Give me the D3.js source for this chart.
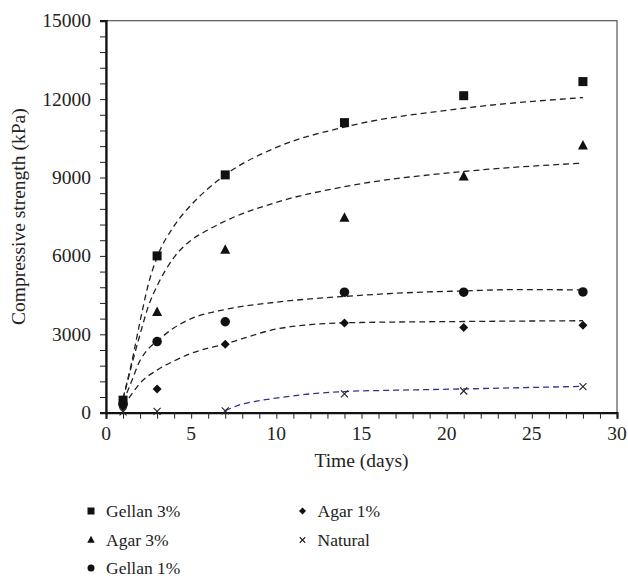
<!DOCTYPE html>
<html>
<head>
<meta charset="utf-8">
<script src="https://cdn.jsdelivr.net/npm/d3@7"></script>
<style>
  body { margin: 0; background: #fff; }
  text { font-family: "Liberation Serif", "DejaVu Serif", serif; fill: #222; }
</style>
</head>
<body>
<svg id="chart" width="628" height="580"></svg>
<script>
// measured data (days vs kPa)
let days = [1, 3, 7, 14, 21, 28];
let gellan3 = [480, 6000, 9100, 11100, 12130, 12670];
let agar3 = [430, 3850, 6230, 7450, 9030, 10220];
let gellan1 = [330, 2720, 3480, 4610, 4610, 4620];
let agar1 = [230, 910, 2620, 3430, 3260, 3350];
let natural = [30, 50, 70, 720, 830, 1000];

// dashed trend lines
let trendGellan3 = [[1, 560], [1.5, 1900], [2, 3500], [2.5, 4950], [3, 5950], [4, 7150], [5, 7950], [6, 8580], [7, 9100], [10, 10150], [14, 10930], [21, 11650], [28, 12060]];
let trendAgar3 = [[1, 500], [1.5, 1800], [2, 3000], [2.5, 4100], [3, 4850], [4, 5950], [5, 6600], [6, 7000], [7, 7335], [10, 8050], [14, 8650], [21, 9230], [28, 9550]];
let trendGellan1 = [[1, 400], [1.5, 1200], [2, 2000], [2.5, 2450], [3, 2740], [4, 3250], [5, 3600], [7, 3950], [10, 4230], [14, 4450], [18, 4600], [21, 4660], [24, 4710], [28, 4700]];
let trendAgar1 = [[1, 250], [1.5, 700], [2, 1130], [3, 1630], [4, 1980], [5, 2270], [7, 2630], [10, 3200], [12, 3370], [14, 3440], [21, 3490], [28, 3520]];
let trendNatural = [[7, 80], [8, 330], [9, 460], [10, 560], [12, 720], [14, 810], [17, 860], [21, 910], [28, 1010]];

let xTicks = [0, 5, 10, 15, 20, 25, 30];
let yTicks = [0, 3000, 6000, 9000, 12000, 15000];

let series = [
  {name: "Gellan 3%", values: gellan3, trend: trendGellan3, shape: "square", color: "#222"},
  {name: "Agar 3%", values: agar3, trend: trendAgar3, shape: "triangle", color: "#222"},
  {name: "Gellan 1%", values: gellan1, trend: trendGellan1, shape: "circle", color: "#222"},
  {name: "Agar 1%", values: agar1, trend: trendAgar1, shape: "diamond", color: "#222"},
  {name: "Natural", values: natural, trend: trendNatural, shape: "cross", color: "#2e3192"}
];

let svg = d3.select("#chart");
let plot = {left: 106, right: 617, top: 20.7, bottom: 412.7};

let xScale = d3.scaleLinear().domain([0, 30]).range([plot.left, plot.right]);
let yScale = d3.scaleLinear().domain([0, 15000]).range([plot.bottom, plot.top]);

// frame (top and right thin)
svg.append("rect")
  .attr("x", plot.left).attr("y", plot.top)
  .attr("width", plot.right - plot.left).attr("height", plot.bottom - plot.top)
  .style("fill", "none").style("stroke", "#555").style("stroke-width", 1.2);

// minor ticks
let xAxis = d3.axisBottom(xScale).tickValues(d3.range(0, 31, 1)).tickSize(6).tickFormat("");
let yAxis = d3.axisLeft(yScale).tickValues(d3.range(0, 15001, 600)).tickSize(6).tickFormat("");

let gx = svg.append("g").attr("transform", `translate(0,${plot.bottom})`).call(xAxis);
let gy = svg.append("g").attr("transform", `translate(${plot.left},0)`).call(yAxis);
[gx, gy].forEach(g => {
  g.select(".domain").style("stroke", "#111").style("stroke-width", 2.2);
  g.selectAll(".tick line").style("stroke", "#222").style("stroke-width", 1);
});

// tick labels
svg.selectAll(".xlab").data(xTicks).enter().append("text")
  .attr("x", d => xScale(d))
  .attr("y", plot.bottom + 27)
  .attr("text-anchor", "middle")
  .style("font-size", "19.5px")
  .text(d => d);
svg.selectAll(".ylab").data(yTicks).enter().append("text")
  .attr("x", plot.left - 15)
  .attr("y", d => yScale(d) + 6.5)
  .attr("text-anchor", "end")
  .style("font-size", "19.5px")
  .text(d => d);

// axis titles
svg.append("text")
  .attr("x", (plot.left + plot.right) / 2)
  .attr("y", 467)
  .attr("text-anchor", "middle")
  .style("font-size", "19.5px")
  .text("Time (days)");
svg.append("text")
  .attr("transform", `translate(25,${(plot.top + plot.bottom) / 2}) rotate(-90)`)
  .attr("text-anchor", "middle")
  .style("font-size", "19.5px")
  .text("Compressive strength (kPa)");

// trend lines
let line = d3.line()
  .x(d => xScale(d[0]))
  .y(d => yScale(d[1]))
  .curve(d3.curveMonotoneX);

series.forEach(s => {
  svg.append("path")
    .attr("d", line(s.trend))
    .style("fill", "none")
    .style("stroke", s.color)
    .style("stroke-width", 1.3)
    .style("stroke-dasharray", "6,4");
});

function drawMarker(g, shape, cx, cy, size) {
  if (shape === "square") {
    g.append("rect").attr("x", cx - size / 2).attr("y", cy - size / 2)
      .attr("width", size).attr("height", size).style("fill", "#111");
  } else if (shape === "triangle") {
    let h = size * 0.95;
    g.append("path")
      .attr("d", `M${cx},${cy - h * 0.6}L${cx + size / 2},${cy + h * 0.4}L${cx - size / 2},${cy + h * 0.4}Z`)
      .style("fill", "#111");
  } else if (shape === "circle") {
    g.append("circle").attr("cx", cx).attr("cy", cy).attr("r", size / 2).style("fill", "#111");
  } else if (shape === "diamond") {
    let r = size / 2;
    g.append("path")
      .attr("d", `M${cx},${cy - r}L${cx + r},${cy}L${cx},${cy + r}L${cx - r},${cy}Z`)
      .style("fill", "#111");
  } else {
    let r = size / 2 - 0.5;
    g.append("path")
      .attr("d", `M${cx - r},${cy - r}L${cx + r},${cy + r}M${cx + r},${cy - r}L${cx - r},${cy + r}`)
      .style("stroke", "#222").style("stroke-width", 1.1).style("fill", "none");
  }
}

let sizes = {square: 9, triangle: 10, circle: 9.5, diamond: 9, cross: 8};
let markers = svg.append("g");
series.forEach(s => {
  s.values.forEach((v, i) => {
    drawMarker(markers, s.shape, xScale(days[i]), yScale(v), sizes[s.shape]);
  });
});

// legend
let legendSizes = {square: 7, triangle: 7.5, circle: 7, diamond: 7, cross: 6.5};
let legendPos = [[91, 511], [91, 540], [91, 568], [302.5, 511], [302.5, 540]];
let legend = svg.append("g");
series.forEach((s, i) => {
  let [mx, my] = legendPos[i];
  drawMarker(legend, s.shape, mx, my, legendSizes[s.shape]);
  legend.append("text")
    .attr("x", mx + 15)
    .attr("y", my + 6)
    .style("font-size", "17.5px")
    .text(s.name);
});
</script>
</body>
</html>
